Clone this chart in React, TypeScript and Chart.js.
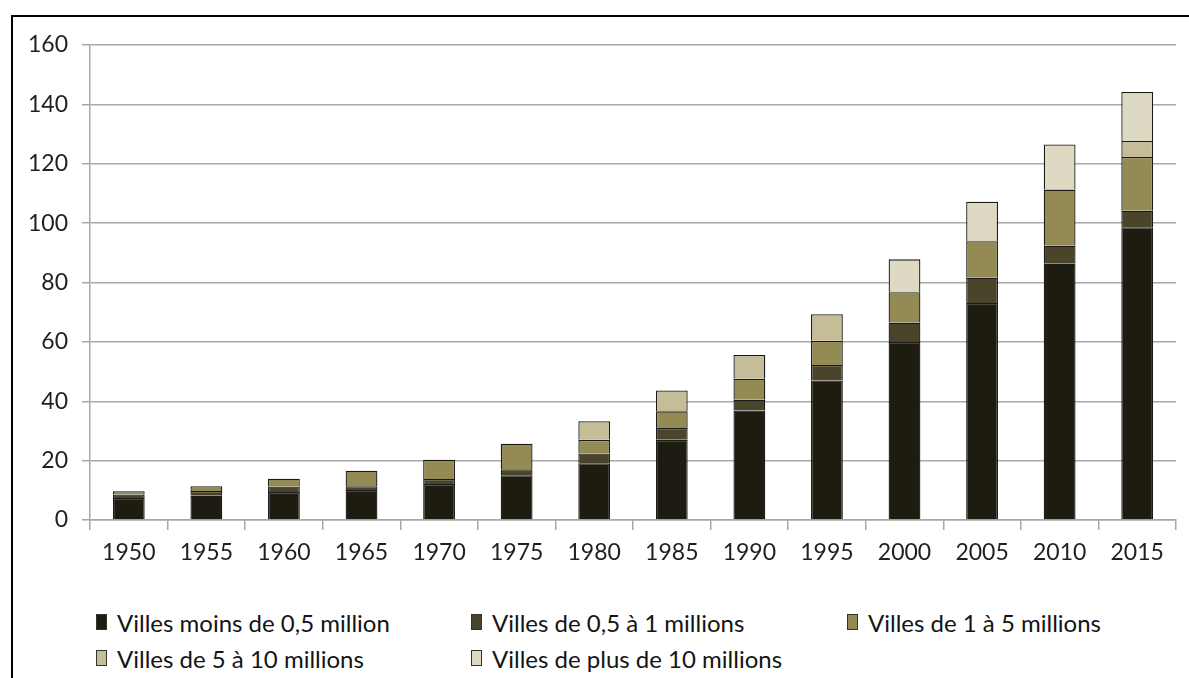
import { useEffect, useRef } from "react";
import { Chart, registerables } from "chart.js";

Chart.register(...registerables);

// Nombre de villes (millions d'habitants) par classe de taille, 1950-2015
const years = ["1950", "1955", "1960", "1965", "1970", "1975", "1980", "1985", "1990", "1995", "2000", "2005", "2010", "2015"];
const moins05 = [7.4, 8.2, 9.4, 10.1, 12.1, 15.1, 19.1, 27.0, 36.9, 47.0, 60.0, 73.1, 86.3, 98.6];
const de05a1 = [1.2, 1.6, 1.9, 1.3, 1.7, 2.0, 3.3, 4.0, 3.6, 5.2, 6.5, 8.5, 6.1, 5.6];
const de1a5 = [1.1, 1.6, 2.6, 5.2, 6.5, 8.6, 4.6, 5.6, 7.1, 8.2, 10.2, 12.3, 18.9, 18.1];
const de5a10 = [null, null, null, null, null, null, 6.3, 7.0, 8.0, 8.9, null, null, null, 5.4];
const plus10 = [null, null, null, null, null, null, null, null, null, null, 11.1, 13.3, 15.2, 16.5];
const yTicks = [0, 20, 40, 60, 80, 100, 120, 140, 160];

const seriesLabels = [
  "Villes moins de 0,5 million",
  "Villes de 0,5 à 1 millions",
  "Villes de 1 à 5 millions",
  "Villes de 5 à 10 millions",
  "Villes de plus de 10 millions",
];
const seriesData = [moins05, de05a1, de1a5, de5a10, plus10];
const seriesColors = ["#1e1c11", "#4a442b", "#948a54", "#c4bd97", "#ddd9c3"];

const FONT = "Lato, 'Open Sans', sans-serif";
const GRID = "#a8a8a8";
const TEXT = "#1f1f1f";

// legend slots: [left, centre-y]
const legendSlots = [
  [96, 622],
  [471, 622],
  [847, 622],
  [96, 658],
  [471, 658],
];

export default function App() {
  const canvasRef = useRef<HTMLCanvasElement | null>(null);

  useEffect(() => {
    const canvas = canvasRef.current;
    if (!canvas) return;
    const chart = new Chart(canvas, {
      type: "bar",
      data: {
        labels: years,
        datasets: seriesLabels.map((label, i) => ({
          label,
          data: seriesData[i] as (number | null)[],
          backgroundColor: seriesColors[i],
          borderColor: "#1a1a1a",
          borderWidth: 1.3,
          barPercentage: 0.41,
          categoryPercentage: 1,
        })),
      },
      options: {
        animation: false,
        responsive: false,
        maintainAspectRatio: false,
        layout: { padding: { top: 45, right: 13, left: 0, bottom: 0 } },
        plugins: {
          legend: { display: false },
          tooltip: { enabled: false },
        },
        scales: {
          x: {
            stacked: true,
            grid: {
              offset: true,
              drawOnChartArea: false,
              drawTicks: true,
              tickLength: 10,
              color: GRID,
              lineWidth: 1.5,
            },
            border: { color: GRID, width: 1.5 },
            ticks: {
              color: TEXT,
              font: { family: FONT, size: 23 },
              padding: 9,
              maxRotation: 0,
              autoSkip: false,
            },
            afterFit: (s: any) => {
              s.height = 60;
            },
          },
          y: {
            stacked: true,
            min: 0,
            max: 160,
            afterBuildTicks: (s: any) => {
              s.ticks = yTicks.map((v) => ({ value: v }));
            },
            grid: { color: GRID, lineWidth: 1.5, tickLength: 8 },
            border: { color: GRID, width: 1.5 },
            ticks: {
              color: TEXT,
              font: { family: FONT, size: 23 },
              padding: 14,
            },
            afterFit: (s: any) => {
              s.width = 90;
            },
          },
        },
      },
    });
    return () => chart.destroy();
  }, []);

  return (
    <div
      style={{
        position: "fixed",
        left: 0,
        top: 0,
        width: 1189,
        height: 678,
        overflow: "hidden",
        background: "#ffffff",
        fontFamily: FONT,
      }}
    >
      <div
        style={{
          position: "absolute",
          left: 11,
          top: 15,
          width: 1300,
          height: 800,
          borderTop: "2px solid #000",
          borderLeft: "2px solid #000",
        }}
      />
      <canvas
        ref={canvasRef}
        width={1189}
        height={580}
        style={{ position: "absolute", left: 0, top: 0, width: 1189, height: 580 }}
      />
      {seriesLabels.map((label, i) => (
        <div
          key={label}
          style={{
            position: "absolute",
            left: legendSlots[i][0],
            top: legendSlots[i][1] - 15,
            height: 30,
            display: "flex",
            alignItems: "center",
            whiteSpace: "nowrap",
            fontSize: 24,
            color: "#141414",
          }}
        >
          <span
            style={{
              display: "inline-block",
              width: 9,
              height: 14,
              background: seriesColors[i],
              border: "1px solid #333",
              marginRight: 10,
            }}
          />
          <span>{label}</span>
        </div>
      ))}
    </div>
  );
}
